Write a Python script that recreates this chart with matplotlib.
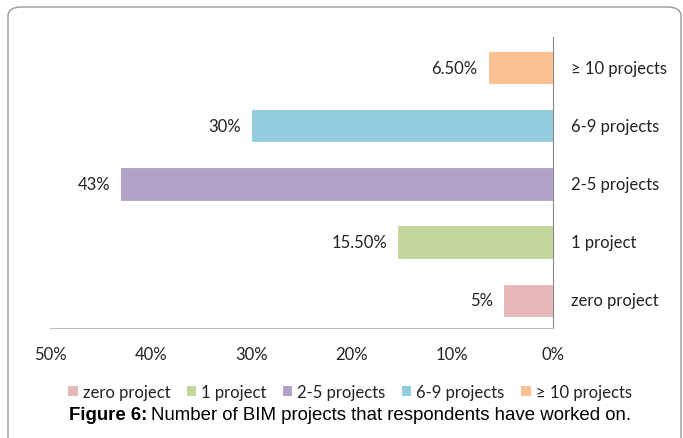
import matplotlib.pyplot as plt
from matplotlib.patches import FancyBboxPatch, Patch

categories = ["zero project", "1 project", "2-5 projects", "6-9 projects", "\u2265 10 projects"]
values = [5, 15.5, 43, 30, 6.5]
value_labels = ["5%", "15.50%", "43%", "30%", "6.50%"]
colors = ["#E6B9B8", "#C3D69B", "#B3A2C7", "#93CDDD", "#FAC090"]
ticks = [0, 10, 20, 30, 40, 50]

plt.rcParams["font.family"] = ["Lato", "DejaVu Sans"]
W, H = 683, 439
fig = plt.figure(figsize=(W / 100, H / 100), dpi=100)

# rounded frame, bottom edge falls outside the image like the source
frame = FancyBboxPatch((8 / W, -0.1), (681 - 8) / W, 1.1 - 8 / H,
                       boxstyle="round,pad=0,rounding_size=0.02",
                       transform=fig.transFigure, fill=False,
                       edgecolor="#9a9a9a", linewidth=1.0)
fig.patches.append(frame)

ax = fig.add_axes([50 / W, 1 - 329 / H, (553 - 50) / W, (329 - 38) / H])
ypos = range(len(categories))
ax.barh(ypos, values, height=0.57, color=colors, edgecolor="white", linewidth=0.8)
ax.set_xlim(50, 0)
ax.set_ylim(-0.48, 4.53)
ax.set_xticks(ticks)
ax.set_xticklabels([f"{t}%" for t in ticks], fontsize=12, color="#222222")
ax.tick_params(axis="x", length=0, pad=13)
ax.set_yticks([])
for s in ["left", "top"]:
    ax.spines[s].set_visible(False)
ax.spines["right"].set_color("#888888")
ax.spines["bottom"].set_color("#bbbbbb")

for y, v, lab, cat in zip(ypos, values, value_labels, categories):
    ax.text(v + 1.0, y, lab, ha="right", va="center", fontsize=12, color="#222222")
    ax.text(-1.8, y, cat, ha="left", va="center", fontsize=12, color="#222222")

handles = [Patch(facecolor=c, edgecolor="none") for c in colors]
fig.legend(handles, categories, loc="center", bbox_to_anchor=(350 / W, 1 - 393 / H),
           ncol=5, frameon=False, fontsize=12, handlelength=0.55, handleheight=0.55,
           handletextpad=0.3, columnspacing=1.0, labelcolor="#222222")

fig.text(147 / W, 1 - 416 / H, "Figure 6:", ha="right", va="center",
         fontsize=13.4, fontweight="bold", family="Liberation Sans")
fig.text(151 / W, 1 - 416 / H, "Number of BIM projects that respondents have worked on.",
         ha="left", va="center", fontsize=13.4, family="Liberation Sans")

fig.savefig("out.png", dpi=100)
